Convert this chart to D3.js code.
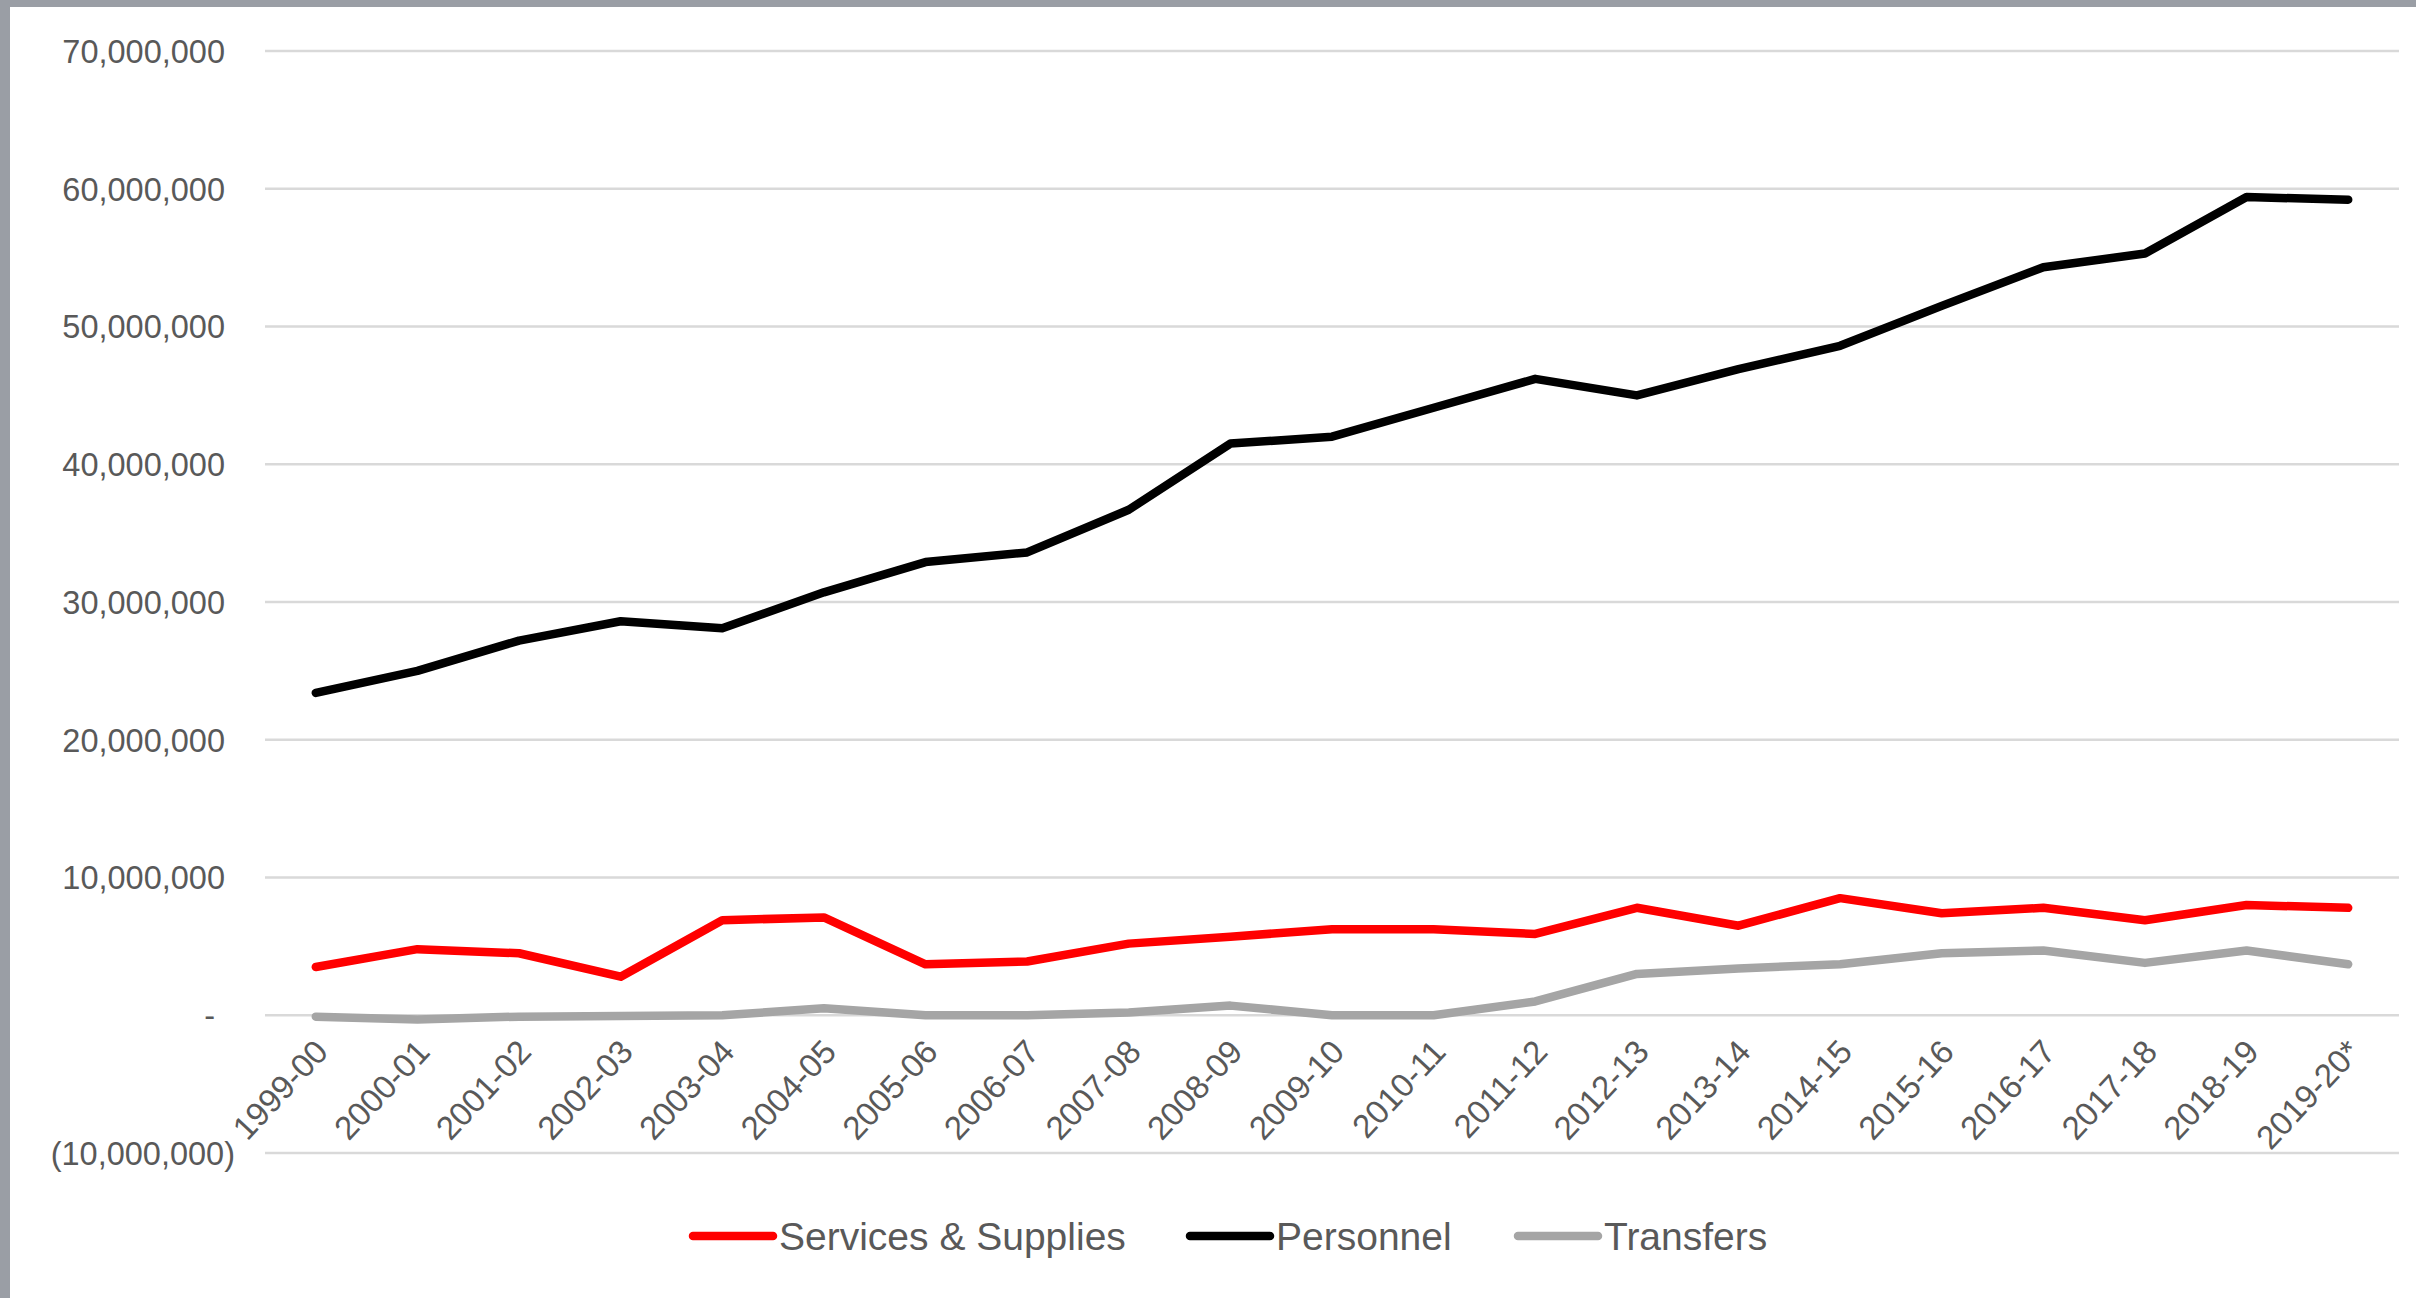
<!DOCTYPE html>
<html>
<head>
<meta charset="utf-8">
<script src="https://cdn.jsdelivr.net/npm/d3@7"></script>
<style>
  html, body { margin: 0; padding: 0; background: #fff; }
  svg { display: block; }
</style>
</head>
<body>
<script>
const categories = ["1999-00","2000-01","2001-02","2002-03","2003-04","2004-05","2005-06","2006-07","2007-08","2008-09","2009-10","2010-11","2011-12","2012-13","2013-14","2014-15","2015-16","2016-17","2017-18","2018-19","2019-20*"];
const servicesSupplies = [3500000,4800000,4500000,2800000,6900000,7100000,3700000,3900000,5200000,5700000,6250000,6250000,5900000,7800000,6500000,8500000,7400000,7800000,6900000,8000000,7800000];
const personnel = [23400000,25000000,27200000,28600000,28100000,30700000,32900000,33600000,36700000,41500000,42000000,44100000,46200000,45000000,46900000,48600000,51500000,54300000,55300000,59400000,59200000];
const transfers = [-100000,-300000,-100000,-50000,0,500000,0,0,200000,700000,0,0,1000000,3000000,3400000,3700000,4500000,4700000,3800000,4700000,3700000];
const yTicks = [-10000000,0,10000000,20000000,30000000,40000000,50000000,60000000,70000000];
const seriesNames = ["Services & Supplies","Personnel","Transfers"];
const seriesColors = ["#ff0000","#000000","#a5a5a5"];

(function () {
const W = 2416, H = 1298;
const svg = d3.select("body").append("svg").attr("width", W).attr("height", H);

// frame (gray border of the screenshot)
svg.append("rect").attr("x",0).attr("y",0).attr("width",W).attr("height",H).attr("fill","#fff");
svg.append("rect").attr("x",0).attr("y",0).attr("width",W).attr("height",7).attr("fill","#9a9ea5");
svg.append("rect").attr("x",0).attr("y",0).attr("width",10).attr("height",H).attr("fill","#9a9ea5");

const mLeft = 265, mRight = 2399, mTop = 51, mBottom = 1153;
const x = d3.scaleBand().domain(categories).range([mLeft, mRight]);
const y = d3.scaleLinear().domain([-10000000, 70000000]).range([mBottom, mTop]);
const font = "'Liberation Sans', Arial, sans-serif";

// gridlines
svg.append("g").selectAll("line").data(yTicks).join("line")
  .attr("x1", mLeft).attr("x2", mRight)
  .attr("y1", d => y(d)).attr("y2", d => y(d))
  .attr("stroke", "#d9d9d9").attr("stroke-width", 2.5);

// y axis labels
const fmt = d3.format(",");
const yAxis = d3.axisLeft(y).tickValues(yTicks).tickSize(0).tickPadding(0)
  .tickFormat(d => d === 0 ? "-" : (d < 0 ? "(" + fmt(-d) + ")" : fmt(d)));
const gy = svg.append("g").attr("transform", "translate(225,0)").call(yAxis);
gy.select(".domain").remove();
gy.selectAll("text").attr("font-family", font).attr("font-size", 32.5).attr("fill", "#595959")
  .attr("dy", "0.35em");
gy.selectAll(".tick").filter(d => d < 0).select("text").attr("x", 10);
gy.selectAll(".tick").filter(d => d === 0).select("text").attr("x", -10);

// x axis labels, rotated
const xAxis = d3.axisBottom(x).tickSize(0).tickPadding(0);
const gx = svg.append("g").attr("transform", `translate(0,${y(0)})`).call(xAxis);
gx.select(".domain").remove();
gx.selectAll("text")
  .attr("font-family", font).attr("font-size", 33).attr("fill", "#595959")
  .attr("text-anchor", "end")
  .attr("dy", null).attr("y", 0)
  .attr("transform", "translate(14,38) rotate(-47)");

// lines
const seriesData = [servicesSupplies, personnel, transfers];
const line = d3.line().x((d, i) => x(categories[i]) + x.bandwidth() / 2).y(d => y(d));
[1, 2, 0].forEach(k => {
  svg.append("path").datum(seriesData[k])
    .attr("d", line)
    .attr("fill", "none")
    .attr("stroke", seriesColors[k])
    .attr("stroke-width", 8.5)
    .attr("stroke-linejoin", "round")
    .attr("stroke-linecap", "round");
});

// legend
const legendY = 1236;
const legendX = [693, 1190, 1518];
const lg = svg.append("g");
seriesNames.forEach((name, k) => {
  lg.append("line")
    .attr("x1", legendX[k]).attr("x2", legendX[k] + 80)
    .attr("y1", legendY).attr("y2", legendY)
    .attr("stroke", seriesColors[k]).attr("stroke-width", 8.5).attr("stroke-linecap", "round");
  lg.append("text")
    .attr("x", legendX[k] + 86).attr("y", legendY).attr("dy", "0.35em")
    .attr("font-family", font).attr("font-size", 39).attr("fill", "#595959")
    .text(name);
});
})();
</script>
</body>
</html>
